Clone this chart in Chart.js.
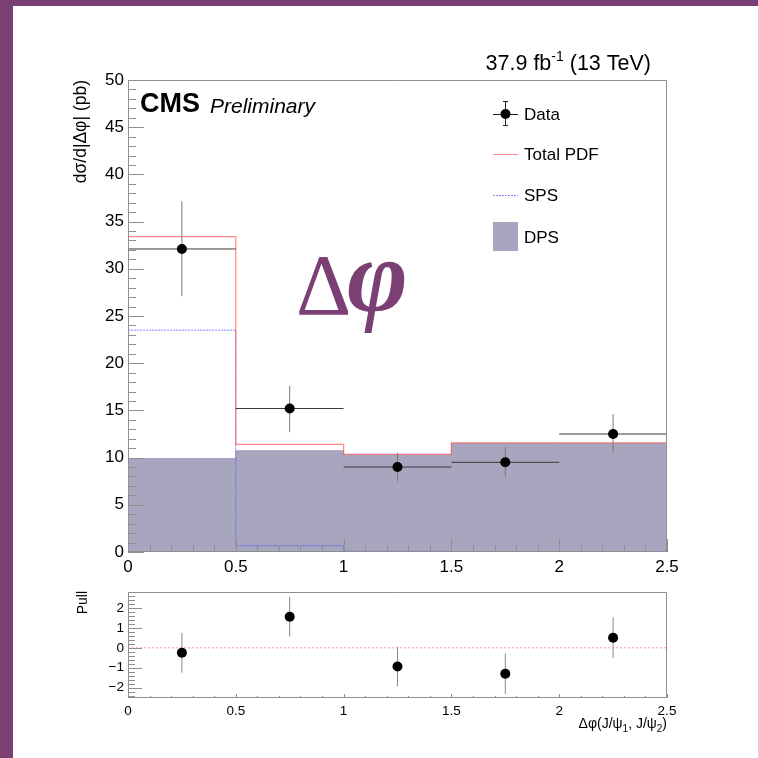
<!DOCTYPE html>
<html>
<head>
<meta charset="utf-8">
<script src="https://cdn.jsdelivr.net/npm/chart.js@4.4.0/dist/chart.umd.min.js"></script>
<style>
  html, body { margin: 0; padding: 0; background: #fff; }
  #page { position: relative; width: 758px; height: 758px; background: #fff; overflow: hidden; }
  #barLeft { position: absolute; left: 0; top: 0; width: 13px; height: 758px; background: #7b3f73; }
  #barTop { position: absolute; left: 0; top: 0; width: 758px; height: 6px; background: #7b3f73; }
  #mainChart { position: absolute; left: 0; top: 0; }
  #pullChart { position: absolute; left: 0; top: 580px; }
</style>
</head>
<body>
<div id="page">
  <canvas id="mainChart" width="758" height="580"></canvas>
  <canvas id="pullChart" width="758" height="178"></canvas>
  <div id="barLeft"></div>
  <div id="barTop"></div>
</div>
<script>
// values
const binEdges = [0, 0.5, 1, 1.5, 2, 2.5];
const binCenters = [0.25, 0.75, 1.25, 1.75, 2.25];
const dataValues = [32.1, 15.2, 9.0, 9.5, 12.5];
const dataErrUp = [5.05, 2.4, 1.5, 1.6, 2.1];
const dataErrDown = [5.0, 2.5, 1.5, 1.5, 2.0];
const totalPdf = [33.4, 11.4, 10.35, 11.55, 11.55];
const spsValues = [23.5, 0.67, 0.07, 0, 0];
const dpsValues = [9.9, 10.73, 10.28, 11.5, 11.5];
const pullValues = [-0.25, 1.56, -0.94, -1.3, 0.51];
const pullErr = [1.0, 1.0, 1.0, 1.02, 1.02];

const yTicks = [0, 5, 10, 15, 20, 25, 30, 35, 40, 45, 50];
const yTickLabels = ['0', '5', '10', '15', '20', '25', '30', '35', '40', '45', '50'];
const xTicks = [0, 0.5, 1, 1.5, 2, 2.5];
const xTickLabels = ['0', '0.5', '1', '1.5', '2', '2.5'];
const pullTicks = [-2, -1, 0, 1, 2];
const pullTickLabels = ['\u22122', '\u22121', '0', '1', '2'];

const SANS = '"Liberation Sans", Arial, Helvetica, sans-serif';
const SERIF = '"Liberation Serif", "Times New Roman", serif';
const PURPLE = '#7b3f73';
const RED_LINE = 'rgba(255, 70, 70, 0.65)';
const BLUE_LINE = 'rgba(80, 80, 255, 0.7)';
const DPS_FILL = '#a8a5bf';

// histogram outline: up from 0 at first edge, steps, down to 0 at last edge
function histOutline(edges, vals) {
  const pts = [{x: edges[0], y: 0}];
  vals.forEach((v, i) => pts.push({x: edges[i], y: v}));
  pts.push({x: edges[edges.length - 1], y: vals[vals.length - 1]});
  pts.push({x: edges[edges.length - 1], y: 0});
  return pts;
}

function hErrBars(edges, vals) {
  const pts = [];
  vals.forEach((v, i) => {
    pts.push({x: edges[i], y: v}, {x: edges[i + 1], y: v}, {x: edges[i + 1], y: null});
  });
  return pts;
}

function vErrBars(centers, vals, up, down) {
  const pts = [];
  vals.forEach((v, i) => {
    pts.push({x: centers[i], y: v - down[i]}, {x: centers[i], y: v + up[i]}, {x: centers[i], y: null});
  });
  return pts;
}

function fixTicks(values) {
  return scale => { scale.ticks = values.map(v => ({value: v})); };
}

// ROOT-like frame with ticks pointing inside
function frameTicks(o) {
  return {
    id: 'frameTicks',
    afterDatasetsDraw(chart) {
      const {ctx, chartArea: a, scales: {x, y}} = chart;
      ctx.save();
      ctx.strokeStyle = '#8f8f8f';
      ctx.lineWidth = 1;
      ctx.beginPath();
      ctx.rect(Math.round(a.left) + 0.5, Math.round(a.top) + 0.5,
               Math.round(a.right - a.left) - 1, Math.round(a.bottom - a.top) - 1);
      const isMajor = (v, m) => Math.abs(v / m - Math.round(v / m)) < 1e-6;
      let k0 = Math.ceil(x.min / o.xMinor - 1e-6), k1 = Math.floor(x.max / o.xMinor + 1e-6);
      for (let k = k0; k <= k1; k++) {
        const v = k * o.xMinor;
        const px = Math.round(x.getPixelForValue(v)) + 0.5;
        const len = isMajor(v, o.xMajor) ? o.xMajLen : o.xMinLen;
        ctx.moveTo(px, a.bottom);
        ctx.lineTo(px, a.bottom - len);
      }
      k0 = Math.ceil(y.min / o.yMinor - 1e-6); k1 = Math.floor(y.max / o.yMinor + 1e-6);
      for (let k = k0; k <= k1; k++) {
        const v = k * o.yMinor;
        const py = Math.round(y.getPixelForValue(v)) + 0.5;
        const len = isMajor(v, o.yMajor) ? o.yMajLen : o.yMinLen;
        ctx.moveTo(a.left, py);
        ctx.lineTo(a.left + len, py);
      }
      ctx.stroke();
      ctx.restore();
    }
  };
}

const mainText = {
  id: 'mainText',
  afterDraw(chart) {
    const ctx = chart.ctx;
    ctx.save();
    ctx.fillStyle = '#000';
    ctx.textBaseline = 'alphabetic';

    // CMS Preliminary
    ctx.font = 'bold 27px ' + SANS;
    ctx.textAlign = 'left';
    ctx.fillText('CMS', 140, 112);
    ctx.font = 'italic 21px ' + SANS;
    ctx.fillText('Preliminary', 210, 113);

    // lumi label, right aligned
    const p1 = '37.9 fb', p2 = '-1', p3 = ' (13 TeV)';
    ctx.font = '21.5px ' + SANS;
    const w1 = ctx.measureText(p1).width, w3 = ctx.measureText(p3).width;
    ctx.font = '14px ' + SANS;
    const w2 = ctx.measureText(p2).width;
    let lx = 651 - (w1 + w2 + w3);
    ctx.font = '21.5px ' + SANS;
    ctx.fillText(p1, lx, 70);
    ctx.font = '14px ' + SANS;
    ctx.fillText(p2, lx + w1, 61);
    ctx.font = '21.5px ' + SANS;
    ctx.fillText(p3, lx + w1 + w2, 70);

    // y title
    ctx.save();
    ctx.translate(81, 80);
    ctx.rotate(-Math.PI / 2);
    ctx.font = '17.5px ' + SANS;
    ctx.textAlign = 'right';
    ctx.textBaseline = 'middle';
    ctx.fillText('d\u03c3/d|\u0394\u03c6| (pb)', 0, 0);
    ctx.restore();

    // legend
    const lx0 = 493, lx1 = 518, tx = 524;
    ctx.font = '17px ' + SANS;
    ctx.textAlign = 'left';
    ctx.textBaseline = 'middle';
    // Data
    ctx.strokeStyle = '#222';
    ctx.lineWidth = 1;
    ctx.beginPath();
    ctx.moveTo(lx0, 114.5); ctx.lineTo(lx1, 114.5);
    ctx.moveTo(505.5, 101); ctx.lineTo(505.5, 126);
    ctx.moveTo(503, 101.5); ctx.lineTo(508, 101.5);
    ctx.moveTo(503, 125.5); ctx.lineTo(508, 125.5);
    ctx.stroke();
    ctx.beginPath();
    ctx.arc(505.5, 114, 5, 0, Math.PI * 2);
    ctx.fill();
    ctx.fillText('Data', tx, 115);
    // Total PDF
    ctx.strokeStyle = RED_LINE;
    ctx.beginPath(); ctx.moveTo(lx0, 154.5); ctx.lineTo(lx1, 154.5); ctx.stroke();
    ctx.fillText('Total PDF', tx, 155);
    // SPS
    ctx.strokeStyle = BLUE_LINE;
    ctx.setLineDash([2, 1]);
    ctx.beginPath(); ctx.moveTo(lx0, 195.5); ctx.lineTo(lx1, 195.5); ctx.stroke();
    ctx.setLineDash([]);
    ctx.fillText('SPS', tx, 196);
    // DPS
    ctx.fillStyle = DPS_FILL;
    ctx.fillRect(lx0, 222, lx1 - lx0, 29);
    ctx.fillStyle = '#000';
    ctx.fillText('DPS', tx, 238);

    // big Delta phi
    ctx.fillStyle = PURPLE;
    ctx.textBaseline = 'alphabetic';
    ctx.font = '86px ' + SERIF;
    ctx.fillText('\u0394', 296, 314);
    ctx.font = 'italic bold 104px ' + SERIF;
    ctx.fillText('\u03c6', 347, 311);
    ctx.restore();
  }
};

const pullText = {
  id: 'pullText',
  afterDraw(chart) {
    const ctx = chart.ctx;
    ctx.save();
    ctx.fillStyle = '#000';
    // y title
    ctx.save();
    ctx.translate(83, 11);
    ctx.rotate(-Math.PI / 2);
    ctx.font = '14px ' + SANS;
    ctx.textAlign = 'right';
    ctx.textBaseline = 'middle';
    ctx.fillText('Pull', 0, 0);
    ctx.restore();
    // x title with subscripts, right aligned
    const parts = [['\u0394\u03c6(J/\u03c8', 0], ['1', 1], [', J/\u03c8', 0], ['2', 1], [')', 0]];
    const fontFor = s => (s ? '10px ' : '14px ') + SANS;
    let total = 0;
    parts.forEach(p => { ctx.font = fontFor(p[1]); total += ctx.measureText(p[0]).width; });
    let px = 667 - total;
    ctx.textAlign = 'left';
    ctx.textBaseline = 'alphabetic';
    parts.forEach(p => {
      ctx.font = fontFor(p[1]);
      ctx.fillText(p[0], px, p[1] ? 152 : 148);
      px += ctx.measureText(p[0]).width;
    });
    ctx.restore();
  }
};

const noBox = {display: false};
const noGrid = {display: false, drawTicks: false};

new Chart(document.getElementById('mainChart').getContext('2d'), {
  type: 'line',
  data: {
    datasets: [
      {
        label: 'Data',
        data: binCenters.map((c, i) => ({x: c, y: dataValues[i]})),
        showLine: false,
        pointRadius: 5,
        pointBackgroundColor: '#000',
        pointBorderWidth: 0,
        order: 0
      },
      {
        label: 'xerr',
        data: hErrBars(binEdges, dataValues),
        borderColor: '#3a3a3a',
        borderWidth: 1,
        pointRadius: 0,
        spanGaps: false,
        order: 1
      },
      {
        label: 'yerr',
        data: vErrBars(binCenters, dataValues, dataErrUp, dataErrDown),
        borderColor: '#7a7a7a',
        borderWidth: 1,
        pointRadius: 0,
        spanGaps: false,
        order: 1
      },
      {
        label: 'Total PDF',
        data: histOutline(binEdges, totalPdf),
        stepped: 'before',
        borderColor: RED_LINE,
        borderWidth: 1.2,
        pointRadius: 0,
        order: 2
      },
      {
        label: 'SPS',
        data: histOutline(binEdges, spsValues),
        stepped: 'before',
        borderColor: BLUE_LINE,
        borderWidth: 1,
        borderDash: [2, 1],
        pointRadius: 0,
        order: 3
      },
      {
        label: 'DPS',
        data: histOutline(binEdges, dpsValues),
        stepped: 'before',
        borderColor: DPS_FILL,
        backgroundColor: DPS_FILL,
        borderWidth: 1,
        fill: 'origin',
        pointRadius: 0,
        order: 4
      }
    ]
  },
  options: {
    responsive: false,
    animation: false,
    events: [],
    layout: {padding: {left: 0, right: 91, top: 80, bottom: 0}},
    plugins: {legend: noBox, tooltip: {enabled: false}},
    scales: {
      x: {
        type: 'linear', min: 0, max: 2.5,
        afterBuildTicks: fixTicks(xTicks),
        afterFit: s => { s.height = 28; },
        grid: noGrid,
        border: {display: false},
        ticks: {
          autoSkip: false, maxRotation: 0, padding: 5, color: '#000',
          font: {family: SANS, size: 17},
          callback: (v, i) => xTickLabels[i]
        }
      },
      y: {
        type: 'linear', min: 0, max: 50,
        afterBuildTicks: fixTicks(yTicks),
        afterFit: s => { s.width = 128; },
        grid: noGrid,
        border: {display: false},
        ticks: {
          autoSkip: false, padding: 4, color: '#000',
          font: {family: SANS, size: 17},
          callback: (v, i) => yTickLabels[i]
        }
      }
    }
  },
  plugins: [
    frameTicks({xMinor: 0.1, xMajor: 0.5, xMajLen: 13, xMinLen: 7,
                yMinor: 1, yMajor: 5, yMajLen: 16, yMinLen: 8}),
    mainText
  ]
});

new Chart(document.getElementById('pullChart').getContext('2d'), {
  type: 'line',
  data: {
    datasets: [
      {
        label: 'Pull',
        data: binCenters.map((c, i) => ({x: c, y: pullValues[i]})),
        showLine: false,
        pointRadius: 5,
        pointBackgroundColor: '#000',
        pointBorderWidth: 0,
        order: 0
      },
      {
        label: 'pullerr',
        data: vErrBars(binCenters, pullValues, pullErr, pullErr),
        borderColor: '#8a8a8a',
        borderWidth: 1,
        pointRadius: 0,
        spanGaps: false,
        order: 1
      },
      {
        label: 'zero',
        data: [{x: binEdges[0], y: 0}, {x: binEdges[binEdges.length - 1], y: 0}],
        borderColor: 'rgba(255, 90, 90, 0.6)',
        borderWidth: 1,
        borderDash: [2, 2],
        pointRadius: 0,
        order: 2
      }
    ]
  },
  options: {
    responsive: false,
    animation: false,
    events: [],
    layout: {padding: {left: 0, right: 91, top: 11, bottom: 0}},
    plugins: {legend: noBox, tooltip: {enabled: false}},
    scales: {
      x: {
        type: 'linear', min: 0, max: 2.5,
        afterBuildTicks: fixTicks(xTicks),
        afterFit: s => { s.height = 60; },
        grid: noGrid,
        border: {display: false},
        ticks: {
          autoSkip: false, maxRotation: 0, padding: 5, color: '#000',
          font: {family: SANS, size: 13.5},
          callback: (v, i) => xTickLabels[i]
        }
      },
      y: {
        type: 'linear', min: -2.52, max: 2.8,
        afterBuildTicks: fixTicks(pullTicks),
        afterFit: s => { s.width = 128; },
        grid: noGrid,
        border: {display: false},
        ticks: {
          autoSkip: false, padding: 4, color: '#000',
          font: {family: SANS, size: 13.5},
          callback: (v, i) => pullTickLabels[i]
        }
      }
    }
  },
  plugins: [
    frameTicks({xMinor: 0.1, xMajor: 0.5, xMajLen: 4, xMinLen: 2,
                yMinor: 0.2, yMajor: 1, yMajLen: 14, yMinLen: 7}),
    pullText
  ]
});
</script>
</body>
</html>
